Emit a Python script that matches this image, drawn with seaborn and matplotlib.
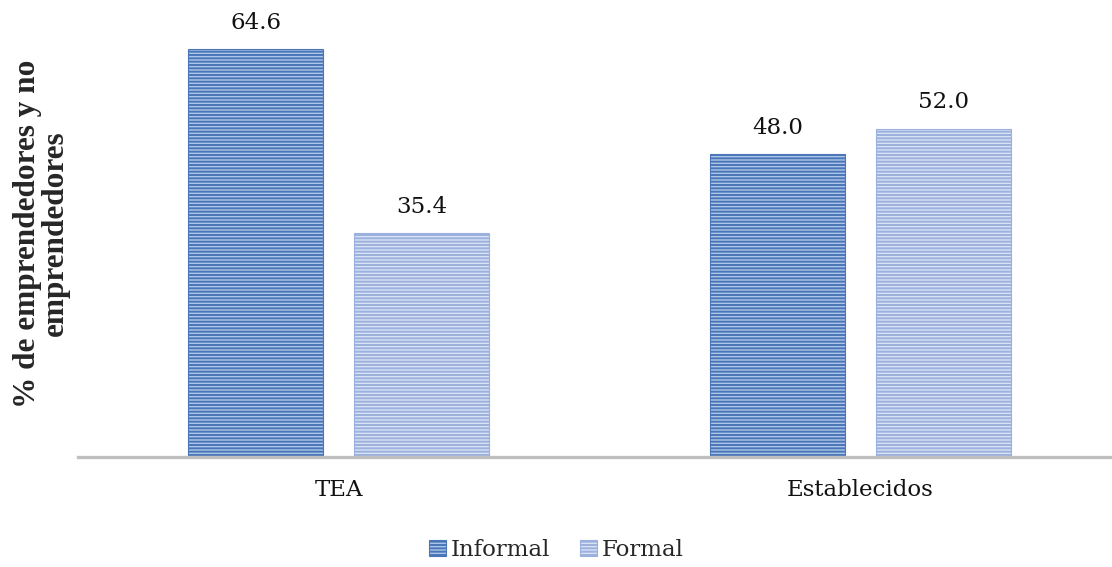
import pandas as pd
import matplotlib.pyplot as plt
import seaborn as sns
from matplotlib.patches import Patch

categories = ['TEA', 'Establecidos']
series = ['Informal', 'Formal']
informal = [64.6, 48.0]
formal = [35.4, 52.0]

df = pd.DataFrame({
    'grupo': categories * 2,
    'tipo': ['Informal'] * 2 + ['Formal'] * 2,
    'valor': informal + formal,
})

sns.set_theme(style="white")
plt.rcParams['hatch.linewidth'] = 1.4

face = {'Informal': '#adc6e8', 'Formal': '#d8e2f5'}
stripe = {'Informal': '#4a76b8', 'Formal': '#9cb0dd'}

fig = plt.figure(figsize=(11.12, 5.67), dpi=100)
ax = fig.add_axes([78 / 1112, 1 - 457 / 567, 1 - 78 / 1112, (457 - 10) / 567])

sns.barplot(data=df, x='grupo', y='valor', hue='tipo', hue_order=series,
            order=categories, width=0.636, gap=0.187, ax=ax, legend=False)

for container, name in zip(ax.containers, series):
    for bar in container:
        bar.set_facecolor(face[name])
        bar.set_edgecolor(stripe[name])
        bar.set_hatch('-----')
        bar.set_linewidth(0.8)
    ax.bar_label(container, fmt='%.1f', padding=11, fontsize=16.5,
                 family='DejaVu Serif', color='#111111')

ax.set_ylim(0, 70.77)
ax.set_xlim(-0.5, 1.482)
ax.set_yticks([])
ax.set_xlabel('')
ax.set_ylabel('% de emprendedores y no\nemprendedores', fontsize=22.5,
              fontweight='bold', family='Liberation Serif', linespacing=0.95)
ax.yaxis.set_label_coords(-0.008, 0.5)
ax.tick_params(axis='x', length=0, pad=16)
for lbl in ax.get_xticklabels():
    lbl.set_family('DejaVu Serif')
    lbl.set_fontsize(16.5)
    lbl.set_color('#111111')

for side in ['top', 'right', 'left']:
    ax.spines[side].set_visible(False)
ax.spines['bottom'].set_color('#bfbfbf')
ax.spines['bottom'].set_linewidth(2.4)

handles = [Patch(facecolor=face[n], edgecolor=stripe[n], hatch='-----', linewidth=0.8)
           for n in series]
fig.legend(handles, series, loc='center', bbox_to_anchor=(0.5, 1 - 550 / 567),
           ncol=2, frameon=False, handlelength=0.75, handleheight=0.75,
           handletextpad=0.2, columnspacing=1.3,
           prop={'family': 'DejaVu Serif', 'size': 16.5})

fig.savefig('out.png', dpi=100)
